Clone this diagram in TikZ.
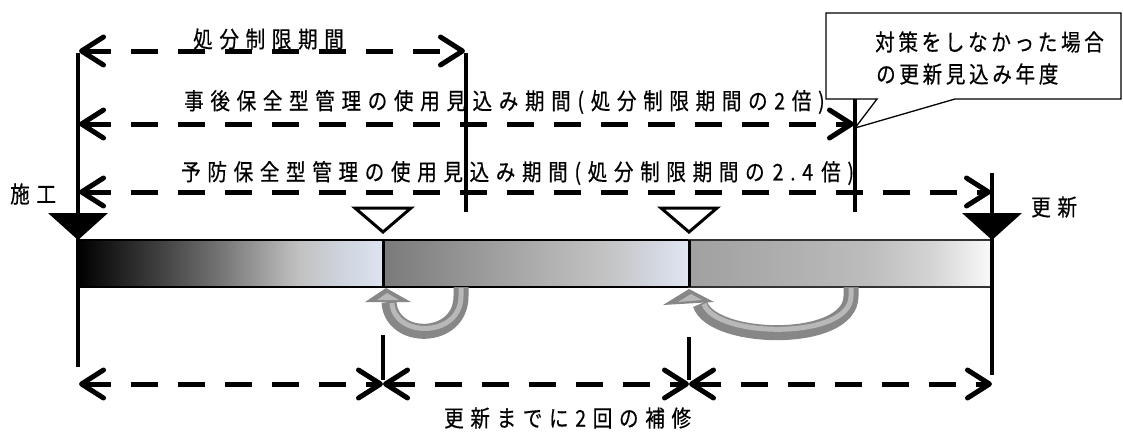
\documentclass[tikz,border=0pt]{standalone}
\usepackage{fontspec}
\newfontfamily\jp{Noto Sans CJK JP}[FakeStretch=0.85, LetterSpace=29, FakeBold=0.5]
\newfontfamily\jpc{Noto Sans CJK JP}[FakeStretch=0.85, LetterSpace=16, FakeBold=0.5]
\usetikzlibrary{arrows.meta}
\definecolor{a1}{HTML}{3C3C3C}
\definecolor{a2}{HTML}{707070}
\definecolor{a3}{HTML}{9C9C9C}
\definecolor{a4}{HTML}{C0C0C0}
\definecolor{a5}{HTML}{CDD2DA}
\definecolor{a6}{HTML}{DDE4F1}
\definecolor{b0}{HTML}{7A7A7A}
\definecolor{b1}{HTML}{989898}
\definecolor{b2}{HTML}{B2B2B2}
\definecolor{b3}{HTML}{C2C2C2}
\definecolor{b4}{HTML}{D0D4DC}
\definecolor{b5}{HTML}{E0E6F2}
\definecolor{c0}{HTML}{A0A0A0}
\definecolor{c1}{HTML}{B0B0B0}
\definecolor{c2}{HTML}{BDBDBD}
\definecolor{c3}{HTML}{D4D4D4}
\definecolor{c4}{HTML}{FAFAFA}
\definecolor{gdark}{HTML}{878787}
\definecolor{glight}{HTML}{B8B8B8}
\pgfdeclarehorizontalshading{segA}{100bp}{color(0bp)=(black); color(25bp)=(black); color(37.5bp)=(a1); color(47.5bp)=(a2); color(55bp)=(a3); color(61bp)=(a4); color(67.5bp)=(a5); color(75bp)=(a6); color(100bp)=(a6)}
\pgfdeclarehorizontalshading{segB}{100bp}{color(0bp)=(b0); color(25bp)=(b0); color(40bp)=(b1); color(52.5bp)=(b2); color(61bp)=(b3); color(68.5bp)=(b4); color(75bp)=(b5); color(100bp)=(b5)}
\pgfdeclarehorizontalshading{segC}{100bp}{color(0bp)=(c0); color(25bp)=(c0); color(42.5bp)=(c1); color(55bp)=(c2); color(65bp)=(c3); color(75bp)=(c4); color(100bp)=(c4)}
\begin{document}
\begin{tikzpicture}[x=1pt,y=-1pt,
  vline/.style={line width=4pt},
  barb/.tip={Straight Barb[length=22pt,width=28pt,round]},
  dimarrow/.style={line width=5pt, dash pattern=on 27pt off 20pt, barb-barb},
  lbl/.style={anchor=west, inner sep=0pt, font=\jp\fontsize{23pt}{26pt}\selectfont},
  lblc/.style={anchor=west, inner sep=0pt, font=\jpc\fontsize{23pt}{26pt}\selectfont},
  segborder/.style={line width=2.5pt, draw=black},
  opentri/.style={fill=white, draw=black, line width=3pt, line join=miter},
  gshaft/.style={line width=15pt, draw=gdark},
  gshine/.style={line width=5pt, draw=glight},
]
\useasboundingbox (0,0) rectangle (1123,432);

% coordinates
\coordinate (st) at (78,240);
\coordinate (r1) at (383,240);
\coordinate (r2) at (689,240);
\coordinate (en) at (992,240);

% bar segments
\shadedraw[shading=segA, segborder] (78,240) rectangle (383,287);
\shadedraw[shading=segB, segborder] (383,240) rectangle (689,287);
\shadedraw[shading=segC, line width=2pt, draw=black!80] (689,240) rectangle (992,287);
\draw[line width=3pt] (383,240) -- (383,287);
\draw[line width=3pt] (689,240) -- (689,287);

% triangles
\fill[black] (48,213) -- (108,213) -- (st) -- cycle;
\fill[black] (962,213) -- (1022,213) -- (en) -- cycle;
\draw[opentri] (355,208) -- (411,208) -- (383,232) -- cycle;
\draw[opentri] (661,208) -- (717,208) -- (689,232) -- cycle;

% gray repair arrows
\draw[gshaft] (461,287) -- (461,296) .. controls (461,342) and (391,342) .. (389,302);
\draw[gshine] (461,288) -- (461,296) .. controls (461,338) and (394,338) .. (392,303);
\fill[gdark] (386,288) -- (365,302) -- (411,302) -- cycle;
\fill[glight] (387,293) -- (377,300) -- (399,300) -- cycle;

\draw[gshaft] (851,287) -- (851,296) .. controls (851,345) and (712,342) .. (700,304);
\draw[gshine] (851,288) -- (851,296) .. controls (851,340) and (716,338) .. (704,304);
\fill[gdark] (689,289) -- (663,305) -- (714,302) -- cycle;
\fill[glight] (691,294) -- (678,302) -- (702,300) -- cycle;

% callout
\draw[line width=1.3pt, fill=white] (826,13) -- (1121,13) -- (1121,99) -- (955,99) -- (855,128) -- (877,99) -- (826,99) -- cycle;
\node[lblc] (c1) at (875,42) {対策をしなかった場合};
\node[lblc] (c2) at (876,74) {の更新見込み年度};

% texts
\node[lbl] (t0) at (193,39) {処分制限期間};
\node[lbl] (t1) at (184,102) {事後保全型管理の使用見込み期間(処分制限期間の2倍)};
\node[lbl] (t2) at (181,173) {予防保全型管理の使用見込み期間(処分制限期間の\hspace{-3pt} 2.4\hspace{-3pt} 倍)};
\node[lbl] (sk) at (10,194) {施工};
\node[lbl] (ks) at (1031,207) {更新};
\node[lbl] (bt) at (444,418) {更新までに2回の補修};

% vertical lines
\coordinate (v0a) at (78,53);   \coordinate (v0b) at (78,367);
\coordinate (v1a) at (466,53);  \coordinate (v1b) at (466,212);
\coordinate (v2a) at (855,99);  \coordinate (v2b) at (855,212);
\coordinate (v3a) at (992,173); \coordinate (v3b) at (992,375);
\coordinate (v4a) at (383,335); \coordinate (v4b) at (383,380);
\coordinate (v5a) at (689,337); \coordinate (v5b) at (689,380);
\foreach \a/\b in {v0a/v0b,v1a/v1b,v2a/v2b,v3a/v3b,v4a/v4b,v5a/v5b}
  \draw[vline] (\a) -- (\b);

% dimension arrows
\coordinate (d0a) at (79,51);  \coordinate (d0b) at (465,51);
\coordinate (d1a) at (79,124); \coordinate (d1b) at (854,124);
\coordinate (d2a) at (79,192); \coordinate (d2b) at (991,192);
\coordinate (b0) at (79,384); \coordinate (b1) at (383,384);
\coordinate (b2) at (689,384); \coordinate (b3) at (992,384);
\draw[dimarrow] (d0a) -- (d0b);
\draw[dimarrow] (d1a) -- (d1b);
\draw[dimarrow] (d2a) -- (d2b);
\draw[dimarrow] (b0) -- (b1);
\draw[dimarrow] (b1) -- (b2);
\draw[dimarrow] (b2) -- (b3);
\end{tikzpicture}
\end{document}
